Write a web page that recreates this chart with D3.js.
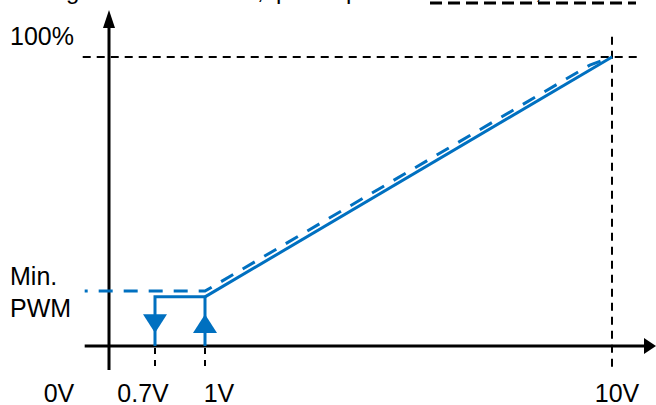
<!DOCTYPE html>
<html>
<head>
<meta charset="utf-8">
<script src="https://cdn.jsdelivr.net/npm/d3@7"></script>
<style>
  html, body { margin: 0; padding: 0; background: #fff; }
  svg { display: block; font-family: "Liberation Sans", Arial, sans-serif; }
</style>
</head>
<body>
<svg id="chart" width="656" height="405"></svg>
<script>
// ---------- data ----------
const voltageTicks = [0, 0.7, 1, 10];
const voltageLabels = ["0V", "0.7V", "1V", "10V"];
const dutyTicks = [100];
const dutyLabels = ["100%"];
const minPwmLabel = ["Min.", "PWM"];
const minPwmOn = 17;      // % (solid, rising branch)
const minPwmOff = 19;     // % (dashed, falling branch)
// solid (switch-on) curve: volts / percent
const solidV = [1, 10];
const solidP = [minPwmOn, 100];
// hysteresis loop (solid)
const loopV = [0.7, 0.7, 1, 1];
const loopP = [0, minPwmOn, minPwmOn, 0];
// dashed (switch-off) curve
const dashedV = [-0.37, 1, 9.51, 10];
const dashedP = [minPwmOff, minPwmOff, 97.2, 100];
const arrowV = [0.7, 1];
const arrowDir = ["down", "up"];
const topFragments = ["g", ",", "p", "p", ","];

// ---------- scales ----------
const svg = d3.select("#chart");
const x = d3.scaleLinear().domain([0, 0.7, 1, 10]).range([109, 155, 205, 612]);
const y = d3.scaleLinear().domain([0, 100]).range([346, 57]);
const blue = "#0070C0";
const FS = 25;
const line = d3.line().x(d => x(d[0])).y(d => y(d[1]));
const zip = (a, b) => a.map((v, i) => [v, b[i]]);

// ---------- clipped fragments at the top ----------
const fragX = [66, 257, 276, 346, 535];
svg.selectAll("text.frag").data(topFragments).join("text")
  .attr("class", "frag")
  .attr("x", (d, i) => fragX[i]).attr("y", -1)
  .attr("font-size", 24).attr("fill", "#000").text(d => d);
svg.append("line").attr("x1", 430).attr("x2", 636).attr("y1", 3).attr("y2", 3)
  .attr("stroke", "#000").attr("stroke-width", 3).attr("stroke-dasharray", "12,6");

// ---------- reference dashed lines ----------
svg.append("path")
  .attr("d", line([[-0.4, 100], [10.6, 100]]))
  .attr("stroke", "#000").attr("stroke-width", 2).attr("fill", "none")
  .attr("stroke-dasharray", "8,6");
svg.append("path")
  .attr("d", line([[10, 107], [10, -9]]))
  .attr("stroke", "#000").attr("stroke-width", 2).attr("fill", "none")
  .attr("stroke-dasharray", "8,6");
svg.selectAll("path.vguide").data([0.7, 1]).join("path")
  .attr("class", "vguide")
  .attr("d", v => line([[v, 0], [v, -9]]))
  .attr("stroke", "#000").attr("stroke-width", 2).attr("fill", "none")
  .attr("stroke-dasharray", "6,6").attr("stroke-dashoffset", -2);

// ---------- axes ----------
svg.append("line")
  .attr("x1", x(-0.37)).attr("x2", 646).attr("y1", y(0)).attr("y2", y(0))
  .attr("stroke", "#000").attr("stroke-width", 3);
svg.append("path")
  .attr("d", `M656,${y(0)} L644,${y(0) - 8} L644,${y(0) + 8} Z`)
  .attr("fill", "#000");
svg.append("line")
  .attr("x1", x(0)).attr("x2", x(0)).attr("y1", 370).attr("y2", 24)
  .attr("stroke", "#000").attr("stroke-width", 3);
svg.append("path")
  .attr("d", `M${x(0)},10 L${x(0) - 6},28 L${x(0) + 6},28 Z`)
  .attr("fill", "#000");

// ---------- curves ----------
svg.append("path")
  .attr("d", line(zip(dashedV, dashedP)))
  .attr("stroke", blue).attr("stroke-width", 3).attr("fill", "none")
  .attr("stroke-dasharray", "14,11").attr("stroke-dashoffset", 11);
svg.append("path")
  .attr("d", line(zip(loopV, loopP)))
  .attr("stroke", blue).attr("stroke-width", 3).attr("fill", "none");
svg.append("path")
  .attr("d", line(zip(solidV, solidP)))
  .attr("stroke", blue).attr("stroke-width", 3).attr("fill", "none");

// direction arrows
svg.selectAll("path.dir").data(arrowV).join("path")
  .attr("class", "dir")
  .attr("d", (v, i) => {
    const cx = x(v);
    const top = y(11), bot = y(4.5);
    return arrowDir[i] === "down"
      ? `M${cx - 12},${top} L${cx + 12},${top} L${cx},${bot} Z`
      : `M${cx - 12},${bot} L${cx + 12},${bot} L${cx},${top} Z`;
  })
  .attr("fill", blue);

// ---------- labels ----------
const xLabelDx = [-50, -12, 14, 5];
svg.selectAll("text.xl").data(voltageTicks).join("text")
  .attr("class", "xl")
  .attr("x", (v, i) => x(v) + xLabelDx[i]).attr("y", 402)
  .attr("text-anchor", "middle").attr("font-size", FS).attr("fill", "#000")
  .text((v, i) => voltageLabels[i]);
svg.selectAll("text.yl").data(dutyTicks).join("text")
  .attr("class", "yl")
  .attr("x", 10).attr("y", v => y(v) - 12)
  .attr("font-size", FS).attr("fill", "#000")
  .text((v, i) => dutyLabels[i]);
svg.selectAll("text.pwm").data(minPwmLabel).join("text")
  .attr("class", "pwm")
  .attr("x", 10).attr("y", (d, i) => y(minPwmOn) - 12 + i * 32)
  .attr("font-size", FS).attr("fill", "#000")
  .text(d => d);
</script>
</body>
</html>
